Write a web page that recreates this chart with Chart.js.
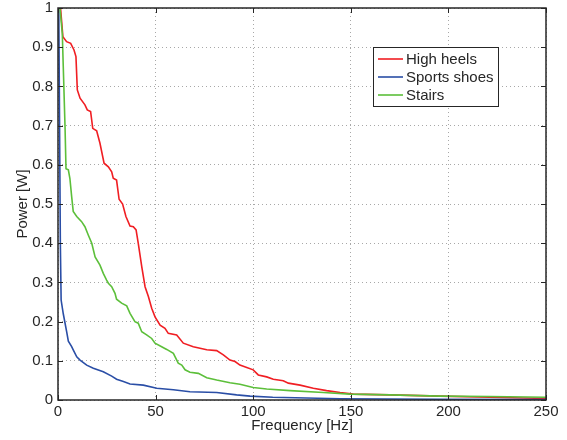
<!DOCTYPE html>
<html>
<head>
<meta charset="utf-8">
<script src="https://cdn.jsdelivr.net/npm/chart.js@4.4.0/dist/chart.umd.min.js"></script>
<style>
    html, body { margin: 0; padding: 0; background: #fff; }
</style>
</head>
<body>
<canvas id="chart-power" width="567" height="440"></canvas>
<script>
// power spectra, frequency in Hz / power in W
const heelsFreq = [1.3, 2.5, 4.4, 6.5, 8.2, 9.2, 9.9, 11.3, 13.8, 15, 16.7, 17.8, 19.8, 21.5, 23.6, 25.8, 27.5, 28.3, 30, 31.3, 33.1, 34.8, 36.9, 38.6, 40, 41.1, 42.9, 44.6, 46.3, 48, 49.7, 52.3, 54.8, 56.5, 60.8, 64.2, 69.3, 76.2, 81.3, 84.7, 88.1, 90.7, 93.2, 96.7, 100, 102.6, 106.9, 110.3, 115.4, 118, 124, 130.8, 137.6, 144.5, 151.3, 170, 195.7, 221, 250];
const heelsPower = [1, 0.927, 0.914, 0.910, 0.893, 0.876, 0.791, 0.770, 0.753, 0.740, 0.736, 0.693, 0.687, 0.655, 0.604, 0.595, 0.582, 0.566, 0.561, 0.512, 0.500, 0.468, 0.444, 0.442, 0.434, 0.400, 0.340, 0.289, 0.264, 0.234, 0.212, 0.191, 0.183, 0.170, 0.166, 0.145, 0.136, 0.128, 0.126, 0.115, 0.102, 0.098, 0.089, 0.083, 0.077, 0.064, 0.059, 0.053, 0.049, 0.043, 0.038, 0.030, 0.024, 0.019, 0.015, 0.013, 0.010, 0.007, 0.004];

const sportsFreq = [0.4, 0.8, 1.2, 1.6, 2.7, 4.4, 5.3, 7, 7.8, 9.6, 11.3, 14.7, 18.1, 23.2, 27.5, 30, 33.5, 36.9, 43.7, 50.6, 59.1, 67.6, 81.3, 91.5, 98.4, 110, 144.5, 196, 250];
const sportsPower = [1, 0.7, 0.4, 0.255, 0.22, 0.175, 0.15, 0.136, 0.128, 0.110, 0.102, 0.089, 0.081, 0.072, 0.061, 0.053, 0.047, 0.041, 0.038, 0.030, 0.026, 0.021, 0.019, 0.013, 0.010, 0.007, 0.003, 0.002, 0.001];

const stairsFreq = [1, 2.2, 2.7, 3.6, 4.1, 5.3, 6.1, 7, 7.8, 9.6, 12.1, 13.8, 15.5, 17.3, 19, 21.5, 23.2, 24.9, 25.8, 27.5, 29.2, 30, 32.6, 35.2, 36.9, 39.4, 41.1, 42.9, 45.4, 48, 49.7, 53.1, 55.7, 59.1, 61.6, 63.4, 65.1, 67.6, 71.9, 76.2, 81.3, 88.1, 93.2, 100, 106.9, 118.9, 135.9, 149.6, 170, 195.7, 221, 250];
const stairsPower = [1, 0.935, 0.85, 0.697, 0.59, 0.587, 0.565, 0.519, 0.481, 0.468, 0.455, 0.442, 0.421, 0.400, 0.365, 0.344, 0.323, 0.306, 0.298, 0.289, 0.272, 0.257, 0.247, 0.240, 0.221, 0.200, 0.196, 0.174, 0.166, 0.157, 0.145, 0.136, 0.129, 0.119, 0.094, 0.089, 0.077, 0.071, 0.068, 0.057, 0.051, 0.044, 0.040, 0.032, 0.028, 0.024, 0.019, 0.015, 0.013, 0.010, 0.009, 0.007];

const seriesLabels = ['High heels', 'Sports shoes', 'Stairs'];
const seriesColors = ['#f01e23', '#2a4ea6', '#5cbf3a'];

const FONT = 'Liberation Sans, Arial, Helvetica, sans-serif';

function toPoints(xs, ys) {
    return xs.map((x, i) => ({ x: x, y: ys[i] }));
}

function makeSet(i, xs, ys, order) {
    return {
        label: seriesLabels[i],
        data: toPoints(xs, ys),
        borderColor: seriesColors[i],
        borderWidth: 1.6,
        pointRadius: 0,
        tension: 0,
        fill: false,
        order: order
    };
}

// black box round the plot + inward tick marks on every side
const frame = {
    id: 'frame',
    afterDatasetsDraw(chart) {
        const { ctx, chartArea: a, scales: { x, y } } = chart;
        const len = 5;
        ctx.save();
        ctx.strokeStyle = '#262626';
        ctx.lineWidth = 1;
        ctx.beginPath();
        x.ticks.forEach(t => {
            const px = Math.round(x.getPixelForValue(t.value)) + 0.5;
            ctx.moveTo(px, a.bottom); ctx.lineTo(px, a.bottom - len);
            ctx.moveTo(px, a.top); ctx.lineTo(px, a.top + len);
        });
        y.ticks.forEach(t => {
            const py = Math.round(y.getPixelForValue(t.value)) + 0.5;
            ctx.moveTo(a.left, py); ctx.lineTo(a.left + len, py);
            ctx.moveTo(a.right, py); ctx.lineTo(a.right - len, py);
        });
        ctx.stroke();
        ctx.lineWidth = 1.5;
        ctx.strokeRect(a.left, a.top, a.width, a.height);
        ctx.restore();
    }
};

// boxed legend in the upper right of the axes
const boxLegend = {
    id: 'boxLegend',
    afterDraw(chart) {
        const { ctx, chartArea: a } = chart;
        const left = a.right - 173, top = a.top + 39;
        const w = 125, h = 59, row = 18;
        ctx.save();
        ctx.fillStyle = '#fff';
        ctx.fillRect(left, top, w, h);
        ctx.strokeStyle = '#262626';
        ctx.lineWidth = 1;
        ctx.strokeRect(left + 0.5, top + 0.5, w, h);
        ctx.font = '15px ' + FONT;
        ctx.textBaseline = 'middle';
        chart.data.datasets.forEach((ds, i) => {
            const cy = top + 12 + i * row;
            ctx.strokeStyle = ds.borderColor;
            ctx.lineWidth = 1.6;
            ctx.beginPath();
            ctx.moveTo(left + 5, cy);
            ctx.lineTo(left + 30, cy);
            ctx.stroke();
            ctx.fillStyle = '#262626';
            ctx.fillText(ds.label, left + 33, cy + 1);
        });
        ctx.restore();
    }
};

const ctx = document.getElementById('chart-power').getContext('2d');
new Chart(ctx, {
    type: 'line',
    data: {
        datasets: [
            makeSet(0, heelsFreq, heelsPower, 3),
            makeSet(1, sportsFreq, sportsPower, 2),
            makeSet(2, stairsFreq, stairsPower, 1)
        ]
    },
    options: {
        responsive: false,
        animation: false,
        layout: { padding: { top: 8, right: 21, left: 0, bottom: 0 } },
        plugins: {
            legend: { display: false },
            tooltip: { enabled: false }
        },
        scales: {
            x: {
                type: 'linear',
                min: 0,
                max: 250,
                ticks: { stepSize: 50, color: '#262626', padding: 3, maxRotation: 0, font: { family: FONT, size: 15 } },
                grid: { color: '#a8a8a8', drawTicks: false, lineWidth: 1 },
                border: { display: false, dash: [1, 3] },
                title: { display: true, text: 'Frequency [Hz]', color: '#262626', padding: { top: 0, bottom: 5 }, font: { family: FONT, size: 15 } },
                afterFit(scale) { scale.height = 40; scale.paddingLeft = 0; scale.paddingRight = 0; }
            },
            y: {
                min: 0,
                max: 1,
                ticks: {
                    stepSize: 0.1, color: '#262626', padding: 5, font: { family: FONT, size: 15 },
                    callback: v => String(+v.toFixed(2))
                },
                grid: { color: '#a8a8a8', drawTicks: false, lineWidth: 1 },
                border: { display: false, dash: [1, 3] },
                title: { display: true, text: 'Power [W]', color: '#262626', padding: { top: 14, bottom: 0 }, font: { family: FONT, size: 15 } },
                afterFit(scale) { scale.width = 58; scale.paddingTop = 0; scale.paddingBottom = 0; }
            }
        }
    },
    plugins: [frame, boxLegend]
});
</script>
</body>
</html>
